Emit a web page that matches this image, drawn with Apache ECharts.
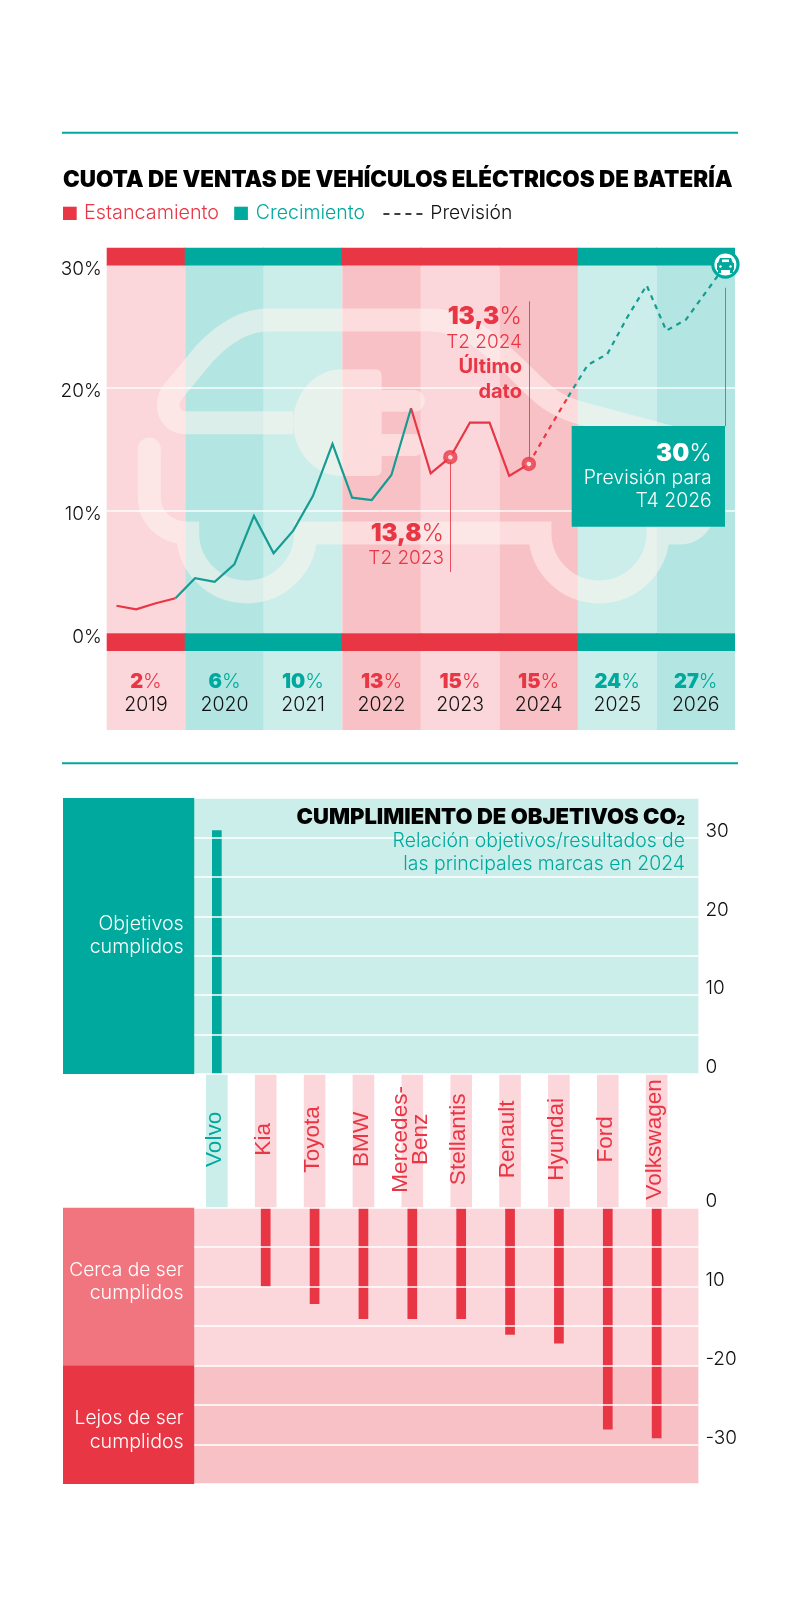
<!DOCTYPE html>
<html>
<head>
<meta charset="utf-8">
<style>
  html, body { margin: 0; padding: 0; background: #fff; }
  #main { width: 800px; height: 1616px; }
</style>
<script src="https://cdn.jsdelivr.net/npm/echarts@6/dist/echarts.min.js"></script>
</head>
<body>
<div id="main"></div>
<script>
/* datos */
const years = ['2019', '2020', '2021', '2022', '2023', '2024', '2025', '2026'];
const yearShare = [2, 6, 10, 13, 15, 15, 24, 27];
const yearPhase = ['stall', 'grow', 'grow', 'stall', 'stall', 'stall', 'grow', 'grow'];
const yearDark = [false, true, false, true, false, true, false, true];
const quarterShare = [
  2.25, 1.96, 2.45, 2.86,
  4.49, 4.21, 5.63, 9.58,
  6.53, 8.38, 11.2, 15.45,
  11.07, 10.88, 12.92, 18.37,
  13.06, 14.37, 17.2, 17.2,
  12.84, 13.82, 16.6, 19.3,
  21.9, 22.8, 25.75, 28.4,
  24.7, 25.6, 27.8, 30
];
const shareTicks = ['0%', '10%', '20%', '30%'];
const brands = ['Volvo', 'Kia', 'Toyota', 'BMW', 'Mercedes-\nBenz', 'Stellantis', 'Renault', 'Hyundai', 'Ford', 'Volkswagen'];
const brandGap = [30.9, -10, -12.2, -14.1, -14.1, -14.1, -16.1, -17.2, -28.1, -29.2];
const upperTicks = ['0', '10', '20', '30'];
const lowerTickValues = [0, -10, -20, -30];
const lowerTickLabels = ['0', '10', '-20', '-30'];

const RED = '#e93644', TEAL = '#00a99d', LINE_TEAL = '#169c92';
const PINK = '#fbd6db', PINK_DARK = '#f8c1c6', AQUA = '#cceeeb', AQUA_DARK = '#b3e5e2';
const SOFT_RED = '#f0757f', INK = '#111', GHOST = 'rgba(255,246,240,0.52)';
const FONT = 'Inter', HEAD = 'Inter', BRAND = '"Liberation Sans"';

const quarters = [];
years.forEach(y => { ['T1', 'T2', 'T3', 'T4'].forEach(t => quarters.push(t + ' ' + y)); });

const bandLeft = 106.7, bandWidth = 628.3;
const grids = [];
const xAxes = [];
const yAxes = [];
const series = [];

function addPanel(grid, x, y) {
  grids.push(grid);
  const idx = grids.length - 1;
  xAxes.push(Object.assign({ gridIndex: idx, show: false }, x));
  yAxes.push(Object.assign({ gridIndex: idx, show: false }, y));
  return idx;
}

function yearBar(idx, color, label, barWidth) {
  series.push({
    type: 'bar', xAxisIndex: idx, yAxisIndex: idx, z: 0, barWidth: barWidth || '100%', silent: true,
    data: years.map((y, i) => ({
      value: 1,
      itemStyle: { color: color(i) },
      label: label ? label(i) : undefined
    }))
  });
}

const bg = i => yearPhase[i] === 'stall' ? (yearDark[i] ? PINK_DARK : PINK) : (yearDark[i] ? AQUA_DARK : AQUA);
const strong = i => yearPhase[i] === 'stall' ? RED : TEAL;
const yearCat = { type: 'category', data: years };
const unit = { type: 'value', min: 0, max: 1 };

// franjas por año, arriba, detrás de la línea, abajo y tabla
// las fuertes un poco más anchas para que no se vea la junta entre años
yearBar(addPanel({ left: bandLeft, width: bandWidth, top: 247.7, height: 18 }, yearCat, unit), strong, null, 79.5);
yearBar(addPanel({ left: bandLeft, width: bandWidth, top: 265.7, height: 367.6 }, yearCat, unit), bg);
yearBar(addPanel({ left: bandLeft, width: bandWidth, top: 633.3, height: 17.7 }, yearCat, unit), strong, null, 79.5);
yearBar(addPanel({ left: bandLeft, width: bandWidth, top: 651, height: 79 }, yearCat, unit), bg, i => ({
  show: true, position: 'inside', offset: [0, 3],
  formatter: '{' + yearPhase[i] + '|' + yearShare[i] + '}{' + yearPhase[i] + 'P|%}\n{y|' + years[i] + '}',
  rich: {
    stall: { fontFamily: FONT, fontWeight: 900, fontSize: 20, color: RED, lineHeight: 24 },
    stallP: { fontFamily: FONT, fontWeight: 300, fontSize: 20, color: RED, lineHeight: 24 },
    grow: { fontFamily: FONT, fontWeight: 900, fontSize: 20, color: TEAL, lineHeight: 24 },
    growP: { fontFamily: FONT, fontWeight: 300, fontSize: 20, color: TEAL, lineHeight: 24 },
    y: { fontFamily: FONT, fontWeight: 300, fontSize: 19.5, color: INK, lineHeight: 24 }
  }
}));

// línea
const lineIdx = addPanel(
  { left: bandLeft, width: bandWidth, top: 265.7, height: 367.6 },
  { type: 'category', data: quarters },
  {
    type: 'value', show: true, min: 0, max: 30, interval: 10, z: 2,
    axisLine: { show: false }, axisTick: { show: false },
    splitLine: { showMinLine: false, showMaxLine: false, lineStyle: { color: '#fff', width: 1.6, opacity: 0.9 } },
    axisLabel: {
      margin: 5, color: INK, fontFamily: FONT, fontWeight: 300, fontSize: 19,
      verticalAlign: 'top', lineHeight: 7,
      formatter: v => shareTicks[v / 10]
    }
  }
);

function part(from, to, color, dashed) {
  series.push({
    type: 'line', xAxisIndex: lineIdx, yAxisIndex: lineIdx, z: 5, symbol: 'none', silent: true,
    data: quarterShare.map((v, i) => (i >= from && i <= to ? v : null)),
    lineStyle: { color: color, width: 2.2, join: 'miter', cap: 'butt', type: dashed ? [5, 5] : 'solid' }
  });
}
part(0, 3, RED);
part(3, 15, LINE_TEAL);
part(15, 21, RED);
part(21, 23, RED, true);
part(23, 31, LINE_TEAL, true);

// puntos y guías de las anotaciones
series.push({
  type: 'scatter', xAxisIndex: lineIdx, yAxisIndex: lineIdx, z: 6, silent: true, symbolSize: 9.5,
  itemStyle: { color: '#fff', borderColor: RED, borderWidth: 5 },
  data: [[quarters[17], quarterShare[17]], [quarters[21], quarterShare[21]]],
  markLine: {
    silent: true, symbol: 'none', label: { show: false }, z: 4, animation: false,
    lineStyle: { type: 'solid', width: 1, color: RED, opacity: 0.85 },
    data: [
      [{ xAxis: quarters[17], yAxis: quarterShare[17] }, { xAxis: quarters[17], yAxis: 5 }],
      [{ xAxis: quarters[21], yAxis: quarterShare[21] }, { xAxis: quarters[21], yAxis: 27.1 }],
      [{ xAxis: quarters[31], yAxis: 28.2, lineStyle: { color: LINE_TEAL } }, { xAxis: quarters[31], yAxis: 16.9 }]
    ]
  }
});

// marcas: paneles y barras
const brandLeft = 192.4, brandWidth = 488.7;
const panelLeft = 194.3, panelWidth = 504.1;
const brandCat = { type: 'category', data: brands };

function panelAxis(min, max, formatter) {
  return {
    type: 'value', show: true, position: 'right', min: min, max: max, interval: 5, z: 3,
    axisLine: { show: false }, axisTick: { show: false },
    splitLine: { lineStyle: { color: '#fff', width: 1.6 } },
    axisLabel: {
      margin: 7, color: INK, fontFamily: FONT, fontWeight: 300, fontSize: 19,
      verticalAlign: 'bottom', lineHeight: 13,
      formatter: formatter
    }
  };
}

// panel superior
const upperBack = addPanel(
  { left: panelLeft, width: panelWidth, top: 798, height: 276, show: true, backgroundColor: AQUA, borderWidth: 0 },
  { type: 'value', min: 0, max: 1 },
  panelAxis(0, 35, v => (v % 10 === 0 ? upperTicks[v / 10] : ''))
);
const upperBars = addPanel(
  { left: brandLeft, width: brandWidth, top: 798, height: 276 }, brandCat, { type: 'value', min: 0, max: 35 }
);
series.push({
  type: 'bar', xAxisIndex: upperBars, yAxisIndex: upperBars, z: 2, barWidth: 9.7, silent: true,
  itemStyle: { color: TEAL },
  data: brandGap.map(v => (v > 0 ? v : null))
});

// etiquetas de marca
const chipIdx = addPanel({ left: brandLeft, width: brandWidth, top: 1074, height: 133.7 }, brandCat, unit);
series.push({
  type: 'bar', xAxisIndex: chipIdx, yAxisIndex: chipIdx, z: 1, barWidth: 21.6, silent: true,
  data: brands.map((b, i) => ({
    value: 1,
    itemStyle: { color: brandGap[i] > 0 ? AQUA : PINK },
    label: { color: brandGap[i] > 0 ? TEAL : RED }
  })),
  label: {
    show: true, position: 'inside', rotate: 90, fontFamily: BRAND, fontSize: 22.6, lineHeight: 20, offset: [1.5, -2],
    formatter: p => p.name
  }
});

// panel inferior
const lowerBack = addPanel(
  { left: panelLeft, width: panelWidth, top: 1207.7, height: 276.3 },
  { type: 'value', min: 0, max: 1 },
  panelAxis(-35, 0, v => {
    const i = lowerTickValues.indexOf(v);
    return i < 0 ? '' : lowerTickLabels[i];
  })
);
series.push({
  type: 'line', xAxisIndex: lowerBack, yAxisIndex: lowerBack, z: 0, data: [], silent: true,
  markArea: {
    silent: true, z: 0,
    data: [
      [{ xAxis: 0, yAxis: 0, itemStyle: { color: PINK, opacity: 1 } }, { xAxis: 1, yAxis: -20 }],
      [{ xAxis: 0, yAxis: -20, itemStyle: { color: PINK_DARK, opacity: 1 } }, { xAxis: 1, yAxis: -35 }]
    ]
  }
});
const lowerBars = addPanel(
  { left: brandLeft, width: brandWidth, top: 1207.7, height: 276.3 }, brandCat, { type: 'value', min: -35, max: 0 }
);
series.push({
  type: 'bar', xAxisIndex: lowerBars, yAxisIndex: lowerBars, z: 2, barWidth: 9.7, silent: true,
  itemStyle: { color: RED },
  data: brandGap.map(v => (v < 0 ? v : null))
});

// textos y decoración
function txt(x, y, text, size, color, weight, align, extra) {
  return Object.assign({
    type: 'text', x: x, y: y, z: 8, silent: true,
    style: Object.assign({
      text: text, fontSize: size, fontFamily: FONT, fontWeight: weight || 300, fill: color,
      align: align || 'left', verticalAlign: 'middle'
    }, extra || {})
  });
}
function box(x, y, w, h, color, z) {
  return { type: 'rect', z: z || 1, silent: true, shape: { x: x, y: y, width: w, height: h }, style: { fill: color } };
}
function boldPct(x, y, value, size, color) {
  return txt(x, y, '{b|' + value + '}{p|%}', size, color, 300, 'right', {
    rich: {
      b: { fontFamily: FONT, fontWeight: 900, fontSize: size, fill: color },
      p: { fontFamily: FONT, fontWeight: 300, fontSize: size, fill: color }
    }
  });
}

const CAR = 'M293 422.7 L186 422.7 C168 422.7 162 402 176 388 L205 353 C225 332 245 320 268 320 L430 320 ' +
  'C465 320 490 342 528 380 C545 397 555 405 577 412 L670 437 C695 445 707 470 707 495 C707 520 695 533 680 533 ' +
  'L658 533 A59 59 0 0 1 540 533 L305.7 533 A59 59 0 0 1 187.7 533 C165 533 149.3 517 149.3 497 L149.3 449';
const PLUG = 'M341.7 369.3 L375 369.3 Q381.7 369.3 381.7 376 L381.7 469 Q381.7 476 375 476 L341.7 476 ' +
  'A48.4 53.3 0 0 1 341.7 369.3 Z ' +
  'M381.7 390 L414 390 A10.8 10.8 0 0 1 414 411.7 L381.7 411.7 Z ' +
  'M381.7 434 L414 434 A11 11 0 0 1 414 456 L381.7 456 Z ' +
  'M137.8 449 A11.5 11.5 0 0 1 160.8 449 Z';
const CAR_ICON = 'M720 258 L731 258 L733 263 L718 263 Z M717 263 L734 263 L734 270 L717 270 Z ' +
  'M718 270 L721 270 L721 273 L718 273 Z M730 270 L733 270 L733 273 L730 273 Z';

// la opción graphic no acepta pathData directo, se registran como formas
echarts.graphic.registerShape('carOutline', echarts.graphic.extendPath(CAR, {}));
echarts.graphic.registerShape('plugShape', echarts.graphic.extendPath(PLUG, {}));
echarts.graphic.registerShape('carIcon', echarts.graphic.extendPath(CAR_ICON, {}));

const graphics = [
  box(62, 131.7, 676, 2, TEAL),
  box(62, 762.3, 676, 2, TEAL),

  txt(63, 180, 'CUOTA DE VENTAS DE VEHÍCULOS ELÉCTRICOS DE BATERÍA', 22.4, '#000', 900, 'left', { fontFamily: HEAD }),
  box(63, 206.7, 13.7, 13.3, RED),
  txt(84, 213.5, 'Estancamiento', 19.8, RED),
  box(234.2, 206.7, 13.7, 13.3, TEAL),
  txt(255.8, 213.5, 'Crecimiento', 19.5, TEAL),
  { type: 'line', z: 1, silent: true, shape: { x1: 383.4, y1: 214, x2: 423.4, y2: 214 }, style: { stroke: '#000', lineWidth: 1.6, lineDash: [6, 5] } },
  txt(430.3, 213.5, 'Previsión', 19.3, INK),

  // coche y enchufe de fondo
  { type: 'carOutline', z: 1, silent: true, style: { fill: 'none', stroke: GHOST, lineWidth: 23 } },
  { type: 'plugShape', z: 1, silent: true, style: { fill: GHOST, stroke: 'none' } },

  boldPct(444, 534, '13,8', 24, RED),
  txt(444, 558.3, 'T2 2023', 19, RED, 300, 'right'),
  boldPct(522, 317, '13,3', 24.3, RED),
  txt(522, 342, 'T2 2024', 19, RED, 300, 'right'),
  txt(522, 367, 'Último', 20, RED, 700, 'right'),
  txt(522, 392, 'dato', 20, RED, 700, 'right'),

  box(571.7, 426, 153.3, 100.7, TEAL, 7),
  boldPct(711.7, 453.5, '30', 24, '#fff'),
  txt(711.7, 478.3, 'Previsión para', 19.4, '#fff', 300, 'right'),
  txt(711.7, 501, 'T4 2026', 19.4, '#fff', 300, 'right'),

  // icono del coche
  { type: 'circle', z: 9, silent: true, shape: { cx: 725.4, cy: 264.5, r: 12.6 }, style: { fill: '#fff', stroke: TEAL, lineWidth: 3.2 } },
  { type: 'carIcon', z: 10, silent: true, style: { fill: TEAL, stroke: 'none' } },
  box(722, 259.5, 7, 2.6, '#fff', 11),
  { type: 'circle', z: 11, silent: true, shape: { cx: 720.5, cy: 266.5, r: 1.2 }, style: { fill: '#fff' } },
  { type: 'circle', z: 11, silent: true, shape: { cx: 730.5, cy: 266.5, r: 1.2 }, style: { fill: '#fff' } },

  txt(685, 817, '{t|CUMPLIMIENTO DE OBJETIVOS CO}{s|2}', 22, '#000', 900, 'right', {
    rich: {
      t: { fontFamily: HEAD, fontWeight: 900, fontSize: 22, fill: '#000' },
      s: { fontFamily: HEAD, fontWeight: 900, fontSize: 13, fill: '#000', verticalAlign: 'bottom', padding: [8, 0, 0, 0] }
    }
  }),
  txt(685, 841, 'Relación objetivos/resultados de', 19.4, TEAL, 300, 'right'),
  txt(685, 864, 'las principales marcas en 2024', 19.4, TEAL, 300, 'right'),

  box(63, 798, 131.3, 276, TEAL),
  txt(183.7, 923.7, 'Objetivos', 19.6, '#fff', 300, 'right'),
  txt(183.7, 947, 'cumplidos', 19.6, '#fff', 300, 'right'),

  box(63, 1207.7, 131.3, 157.6, SOFT_RED),
  txt(183.7, 1270, 'Cerca de ser', 19.2, '#fff', 300, 'right'),
  txt(183.7, 1293.5, 'cumplidos', 19.6, '#fff', 300, 'right'),
  box(63, 1365.3, 131.3, 118.7, RED),
  txt(183.7, 1418.5, 'Lejos de ser', 19.2, '#fff', 300, 'right'),
  txt(183.7, 1442, 'cumplidos', 19.6, '#fff', 300, 'right')
];

const myChart = echarts.init(document.getElementById('main'), null, { renderer: 'canvas' });
myChart.setOption({
  animation: false,
  backgroundColor: '#fff',
  tooltip: { show: false },
  grid: grids,
  xAxis: xAxes,
  yAxis: yAxes,
  series: series,
  graphic: { elements: graphics }
});
</script>
</body>
</html>
